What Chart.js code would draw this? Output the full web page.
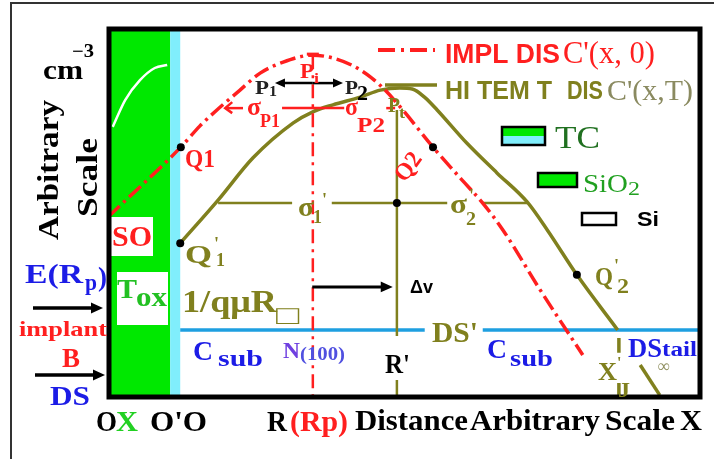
<!DOCTYPE html>
<html>
<head>
<meta charset="utf-8">
<script src="https://cdn.jsdelivr.net/npm/chart.js@4.4.0/dist/chart.umd.min.js"></script>
<style>
  html, body { margin: 0; background: #fff; }
  #caja { position: relative; width: 714px; height: 459px; }
</style>
</head>
<body>
<div id="caja"><canvas id="grafico" width="714" height="459"></canvas></div>
<script>
// Perfil de implantacion y difusion (escala arbitraria 0..100 en ambos ejes)

// curva IMPL DIS C'(x,0)
const distImpl = [0, 12.3, 15.5, 18.4, 22.3, 25.7, 29.6, 34.6, 38.0, 41.4, 44.3, 46.8, 49.8, 54.9, 59.5, 63.3, 66.7, 73.0, 80.2];
const concImpl = [48.9, 67.9, 73.6, 78.0, 83.4, 88.0, 91.0, 92.9, 92.1, 90.0, 87.0, 83.4, 78.0, 67.9, 59.5, 52.7, 45.4, 29.1, 11.4];
// curva HI TEM T DIS C'(x,T)
const distTerm = [12.2, 18.6, 24.5, 31.3, 34.6, 38.0, 42.6, 46.0, 49.3, 51.4, 53.6, 55.6, 60.6, 65.7, 70.8, 74.2, 79.2, 86.1];
const concTerm = [41.8, 53.5, 65.0, 74.5, 77.5, 79.4, 81.5, 83.4, 84.0, 83.7, 81.3, 78.0, 69.0, 60.9, 53.0, 45.4, 33.2, 18.2];
// curva blanca dentro del oxido
const distOx = [0.8, 2.9, 5.4, 7.9, 10.0];
const concOx = [73.4, 80.7, 86.1, 89.4, 90.2];
// puntos marcados Q1, Q'1, Q2, Q'2 y cruce sigma
const puntosX = [12.3, 12.2, 54.9, 79.2, 48.8];
const puntosY = [67.9, 41.8, 67.9, 33.2, 52.7];

// capas y niveles
const oxidoFin = 10.5, tcFin = 12.2;
const rpX = 34.6, rpPico = 92.9;
const rX = 48.8, ptY = 78.0, rHueco = [16.6, 4.6];
const sigmaY = 52.7, sigmaX = [18.6, 31.1, 37.8, 57.3, 63.2, 70.8];
const sigmaPY = 78.5, sigmaPX = [19.8, 22.8, 29.4, 39.9, 47.0, 48.5];
const csubY = 18.2, csubX = [12.2, 53.5, 63.3, 100];
const xjX = 86.3, xjY = [16.0, 12.0, 3.8, 0];
const colaX = [89.9, 93.2], colaY = [8.7, 0.5];
const pY = 85.3, pX = [28.2, 34.6, 39.7];
const flechaY = 29.9, flechaX = [34.5, 48.1];

const ROJO = '#ff1f1f', OLIVA = '#80801e', AZUL = '#1e9fe0', TXT_AZUL = '#1c1ce6';
const VERDE = '#00e800', CIAN = '#80eefc';
const RAYA_PUNTO = [16, 5, 3, 5];

function serie(xs, ys) { return xs.map((v, i) => ({ x: v, y: ys[i] })); }
function linea(datos, color, ancho, extra) {
  return Object.assign({ data: datos, borderColor: color, borderWidth: ancho, pointRadius: 0, showLine: true, fill: false }, extra || {});
}

const datasets = [
  linea(serie(puntosX, puntosY), '#000', 0, { showLine: false, pointRadius: 4, pointBackgroundColor: '#000', pointBorderWidth: 0, order: 0 }),
  linea(serie(distImpl, concImpl), ROJO, 3.5, { cubicInterpolationMode: 'monotone', borderDash: RAYA_PUNTO, order: 1 }),
  linea(serie([rpX, rpX], [rpPico, 0]), ROJO, 2.5, { borderDash: [14, 6, 3, 6], order: 2 }),
  linea(serie(sigmaPX.slice(0, 2), [sigmaPY, sigmaPY]), ROJO, 2.5, { order: 2 }),
  linea(serie(sigmaPX.slice(2, 4), [sigmaPY, sigmaPY]), ROJO, 2.5, { order: 2 }),
  linea(serie(sigmaPX.slice(4, 6), [sigmaPY, sigmaPY]), ROJO, 2.5, { order: 2 }),
  linea(serie(distTerm, concTerm), OLIVA, 3.5, { cubicInterpolationMode: 'monotone', order: 3 }),
  linea(serie([rX, rX], [ptY, rHueco[0]]), OLIVA, 2.5, { order: 4 }),
  linea(serie([rX, rX], [rHueco[1], 0]), OLIVA, 2.5, { order: 4 }),
  linea(serie(sigmaX.slice(0, 2), [sigmaY, sigmaY]), OLIVA, 2.5, { order: 4 }),
  linea(serie(sigmaX.slice(2, 4), [sigmaY, sigmaY]), OLIVA, 2.5, { order: 4 }),
  linea(serie(sigmaX.slice(4, 6), [sigmaY, sigmaY]), OLIVA, 2.5, { order: 4 }),
  linea(serie([xjX, xjX], xjY.slice(0, 2)), OLIVA, 3.5, { order: 4 }),
  linea(serie([xjX, xjX], xjY.slice(2, 4)), OLIVA, 3.5, { order: 4 }),
  linea(serie(colaX, colaY), OLIVA, 3.5, { order: 4 }),
  linea(serie(csubX.slice(0, 2), [csubY, csubY]), AZUL, 3.5, { order: 5 }),
  linea(serie(csubX.slice(2, 4), [csubY, csubY]), AZUL, 3.5, { order: 5 }),
  linea(serie(distOx, concOx), '#fff', 2.5, { cubicInterpolationMode: 'monotone', order: 6 })
];

function texto(ctx, t, x, y, size, color, w, op) {
  op = op || {};
  ctx.save();
  const fam = op.sans ? '"Liberation Sans", Arial, sans-serif' : '"Liberation Serif", "DejaVu Serif", serif';
  ctx.font = (op.normal ? '' : 'bold ') + size + 'px ' + fam;
  ctx.fillStyle = color;
  ctx.textBaseline = 'alphabetic';
  ctx.textAlign = op.centro ? 'center' : 'left';
  ctx.translate(x, y);
  if (op.rot) ctx.rotate(op.rot);
  const m = ctx.measureText(t).width;
  if (w) ctx.scale(w / m, 1);
  ctx.fillText(t, 0, 0);
  ctx.restore();
}

function flecha(ctx, x1, y1, x2, y2, color, ancho, punta) {
  const a = Math.atan2(y2 - y1, x2 - x1);
  ctx.save();
  ctx.strokeStyle = color; ctx.fillStyle = color; ctx.lineWidth = ancho;
  ctx.beginPath(); ctx.moveTo(x1, y1); ctx.lineTo(x2 - Math.cos(a) * punta * 0.6, y2 - Math.sin(a) * punta * 0.6); ctx.stroke();
  ctx.beginPath();
  ctx.moveTo(x2, y2);
  ctx.lineTo(x2 - punta * Math.cos(a) + punta * 0.45 * Math.sin(a), y2 - punta * Math.sin(a) - punta * 0.45 * Math.cos(a));
  ctx.lineTo(x2 - punta * Math.cos(a) - punta * 0.45 * Math.sin(a), y2 - punta * Math.sin(a) + punta * 0.45 * Math.cos(a));
  ctx.closePath(); ctx.fill();
  ctx.restore();
}

// etiquetas: [texto, x, linea base, tamano, color, ancho, opciones]
const etiquetas = [
  ['cm', 43, 79, 28, '#000', 40],
  ['\u22123', 72, 57, 18, '#000', 22],
  ['SO', 112, 246, 30, ROJO, 40],
  ['E(R', 25, 283, 28, TXT_AZUL, 58],
  ['p', 85, 290, 24, TXT_AZUL, 12],
  [')', 98, 286, 28, TXT_AZUL, 9],
  ['implant', 19, 336, 22, ROJO, 88],
  ['B', 62, 367, 28, ROJO, 18],
  ['DS', 50, 405, 28, TXT_AZUL, 40],
  ['T', 117, 298, 28, '#22c022', 20],
  ['ox', 136, 306, 28, '#22c022', 31],
  ['O', 96, 431, 30, '#000', 21],
  ['X', 116, 431, 30, '#22d022', 22],
  ["O'O", 150, 431, 30, '#000', 57],
  ['R', 267, 431, 30, '#000', 20],
  ['(Rp)', 290, 431, 30, ROJO, 58],
  ['Distance', 355, 430, 30, '#000', 113],
  ['Arbitrary', 470, 430, 30, '#000', 130],
  ['Scale', 605, 430, 30, '#000', 70],
  ['X', 680, 430, 30, '#000', 22],
  ['Q1', 185, 167, 26, ROJO, 30],
  ['Q', 185, 263, 26, OLIVA, 27],
  ["'", 214, 250, 18, OLIVA, 0],
  ['1', 216, 266, 18, OLIVA, 9],
  ['\u03c3', 298, 216, 28, OLIVA, 16],
  ['1', 313, 223, 18, OLIVA, 9],
  ["'", 322, 206, 18, OLIVA, 0],
  ['\u03c3', 450, 213, 28, OLIVA, 17],
  ['2', 466, 225, 18, OLIVA, 10],
  ["'", 469, 202, 18, OLIVA, 0],
  ['\u03c3', 247, 115, 26, ROJO, 14],
  ['P1', 260, 127, 18, ROJO, 20],
  ['\u03c3', 345, 115, 26, ROJO, 13],
  ['P2', 357, 132, 20, ROJO, 28],
  ['P', 300, 78, 20, ROJO, 14],
  ['i', 314, 83, 14, ROJO, 5],
  ['P', 255, 94, 18, '#222', 14],
  ['1', 269, 96, 14, '#222', 8],
  ['P', 345, 94, 18, '#222', 13],
  ['2', 357, 100, 20, '#000', 11],
  ['P', 388, 112, 22, OLIVA, 12],
  ['t', 399, 118, 16, OLIVA, 6],
  ['Q', 595, 285, 26, OLIVA, 18],
  ["'", 614, 272, 18, OLIVA, 0],
  ['2', 617, 293, 20, OLIVA, 12],
  ['1/q\u03bcR', 182, 312, 32, OLIVA, 95],
  ['\u25a1', 276, 324, 26, OLIVA, 23],
  ['\u0394v', 410, 293, 19, '#000', 23, { sans: true }],
  ["DS'", 432, 342, 30, OLIVA, 46],
  ['C', 193, 360, 28, TXT_AZUL, 20],
  ['sub', 218, 366, 24, TXT_AZUL, 45],
  ['N', 283, 358, 24, '#7040e0', 17],
  ['(100)', 300, 360, 18, '#5050e0', 45],
  ["R'", 385, 373, 28, '#000', 25],
  ['C', 487, 358, 28, TXT_AZUL, 20],
  ['sub', 510, 366, 24, TXT_AZUL, 43],
  ['DS', 628, 357, 28, TXT_AZUL, 34],
  ['tail', 662, 356, 20, TXT_AZUL, 35],
  ['\u221e', 658, 372, 18, '#909060', 12],
  ['X', 598, 380, 26, OLIVA, 19],
  ["'", 617, 368, 16, OLIVA, 0],
  ['J', 618, 397, 20, OLIVA, 12],
  ['IMPL DIS', 445, 63, 27, ROJO, 115, { sans: true }],
  ["C'(x, 0)", 563, 63, 32, ROJO, 92, { normal: true }],
  ['HI TEM T', 445, 99, 26, OLIVA, 107, { sans: true }],
  ['DIS', 567, 99, 26, OLIVA, 36, { sans: true }],
  ["C'(x,T)", 607, 100, 30, '#8a8a60', 86, { normal: true }],
  ['TC', 555, 148, 32, '#207020', 45, { normal: true }],
  ['SiO', 583, 192, 26, '#20a020', 45, { normal: true }],
  ['2', 628, 195, 18, '#20a020', 12, { normal: true }],
  ['Si', 637, 226, 20, '#000', 22, { sans: true }]
];

const dibujo = {
  id: 'dibujo',
  beforeDatasetsDraw(chart) {
    const { ctx, chartArea: a, scales: { x, y } } = chart;
    ctx.save();
    const x0 = x.getPixelForValue(0), xo = x.getPixelForValue(oxidoFin), xt = x.getPixelForValue(tcFin);
    ctx.fillStyle = VERDE; ctx.fillRect(x0, a.top, xo - x0, a.bottom - a.top);
    ctx.fillStyle = CIAN; ctx.fillRect(xo, a.top, xt - xo, a.bottom - a.top);
    ctx.fillStyle = '#fff';
    ctx.fillRect(108, 217, 45, 39);
    ctx.fillRect(117, 272, 51, 53);
    ctx.restore();
  },
  afterDatasetsDraw(chart) {
    const { ctx, chartArea: a, scales: { x, y } } = chart;
    // flechas P1 <- -> P2 y 1/quR -> R'
    flecha(ctx, x.getPixelForValue(pX[1]), y.getPixelForValue(pY), x.getPixelForValue(pX[0]), y.getPixelForValue(pY), '#000', 2.5, 10);
    flecha(ctx, x.getPixelForValue(pX[1]), y.getPixelForValue(pY), x.getPixelForValue(pX[2]), y.getPixelForValue(pY), '#000', 2.5, 10);
    flecha(ctx, x.getPixelForValue(flechaX[0]), y.getPixelForValue(flechaY), x.getPixelForValue(flechaX[1]), y.getPixelForValue(flechaY), '#000', 3, 12);
    // punta izquierda de sigma P
    ctx.save();
    ctx.strokeStyle = ROJO; ctx.lineWidth = 2.5;
    const sx = x.getPixelForValue(sigmaPX[0]), sy = y.getPixelForValue(sigmaPY);
    ctx.beginPath(); ctx.moveTo(sx + 7, sy - 6); ctx.lineTo(sx, sy); ctx.lineTo(sx + 7, sy + 5); ctx.stroke();
    // marca T en el pico
    const tx = x.getPixelForValue(rpX), ty = y.getPixelForValue(rpPico);
    ctx.lineWidth = 3;
    ctx.beginPath(); ctx.moveTo(tx - 6, ty - 1); ctx.lineTo(tx + 6, ty - 1); ctx.stroke();
    ctx.restore();

    // leyenda
    ctx.save();
    ctx.strokeStyle = ROJO; ctx.lineWidth = 4; ctx.setLineDash([17, 6, 3, 6]);
    ctx.beginPath(); ctx.moveTo(378, 50); ctx.lineTo(435, 50); ctx.stroke();
    ctx.setLineDash([]);
    ctx.strokeStyle = OLIVA; ctx.lineWidth = 3.5;
    ctx.beginPath(); ctx.moveTo(385, 85); ctx.lineTo(437, 85); ctx.stroke();
    ctx.lineWidth = 2.5; ctx.strokeStyle = '#000';
    ctx.fillStyle = VERDE; ctx.fillRect(502, 127, 43, 9);
    ctx.fillStyle = CIAN; ctx.fillRect(502, 136, 43, 9);
    ctx.strokeRect(502, 127, 43, 18);
    ctx.fillStyle = VERDE; ctx.fillRect(538, 173, 39, 14);
    ctx.strokeRect(538, 173, 39, 14);
    ctx.fillStyle = '#fff'; ctx.fillRect(582, 213, 34, 12);
    ctx.strokeRect(582, 213, 34, 12);
    ctx.restore();

    // marco
    ctx.save();
    ctx.strokeStyle = '#000'; ctx.lineWidth = 5;
    ctx.strokeRect(a.left + 1, a.top, a.right - a.left - 1, a.bottom - a.top);
    ctx.restore();

    // textos
    etiquetas.forEach(e => texto(ctx, e[0], e[1], e[2], e[3], e[4], e[5], e[6]));
    texto(ctx, 'Arbitrary', 58, 240, 30, '#000', 140, { rot: -Math.PI / 2 });
    texto(ctx, 'Scale', 97, 217, 30, '#000', 79, { rot: -Math.PI / 2 });
    texto(ctx, 'Q2', 414, 171, 24, ROJO, 30, { rot: -0.95, centro: true });
    flecha(ctx, 33, 308, 103, 308, '#000', 3.5, 12);
    flecha(ctx, 35, 375, 105, 375, '#000', 3.5, 12);

    // borde exterior
    ctx.save();
    ctx.strokeStyle = '#333'; ctx.lineWidth = 2;
    ctx.beginPath(); ctx.moveTo(11, 459); ctx.lineTo(11, 3); ctx.lineTo(714, 3); ctx.stroke();
    ctx.restore();
  }
};

new Chart(document.getElementById('grafico'), {
  type: 'scatter',
  data: { datasets: datasets },
  options: {
    responsive: false,
    animation: false,
    layout: { padding: { left: 108, right: 14, top: 29, bottom: 62 } },
    scales: {
      x: { type: 'linear', min: 0, max: 100, display: false },
      y: { type: 'linear', min: 0, max: 100, display: false }
    },
    plugins: { legend: { display: false }, tooltip: { enabled: false } }
  },
  plugins: [dibujo]
});
</script>
</body>
</html>
